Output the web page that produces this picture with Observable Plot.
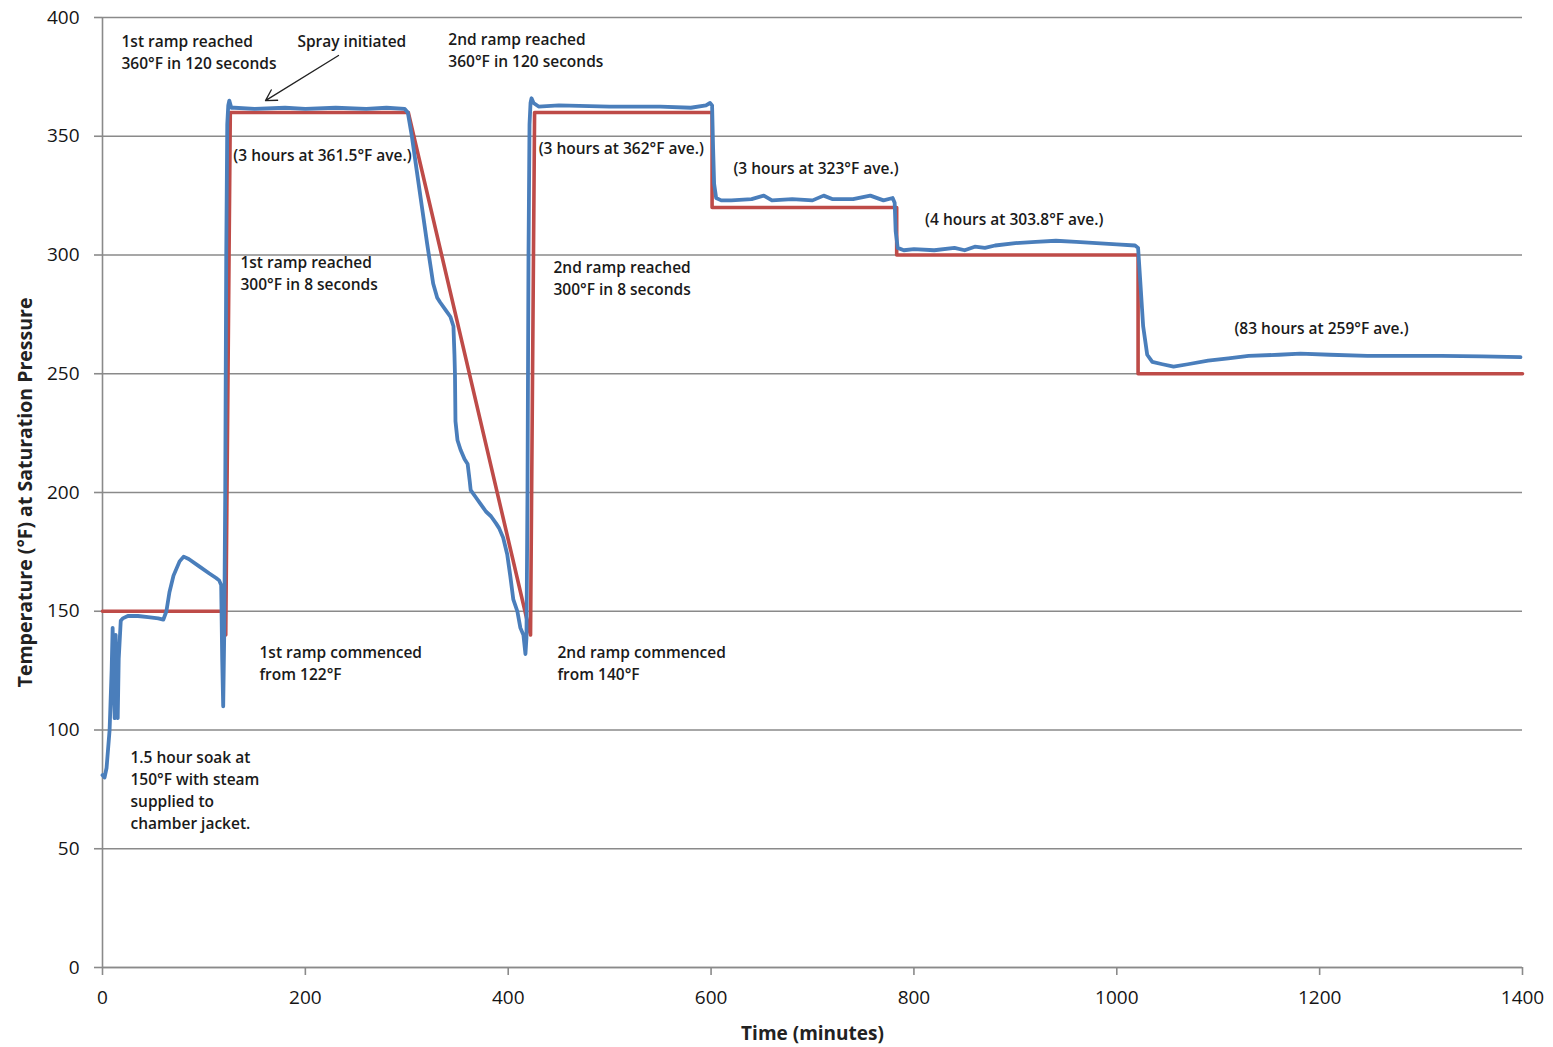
<!DOCTYPE html>
<html><head><meta charset="utf-8">
<script src="https://cdn.jsdelivr.net/npm/d3@7"></script>
<script src="https://cdn.jsdelivr.net/npm/@observablehq/plot@0.6"></script>
<style>body{margin:0;background:#fff}</style>
</head><body><div id="chart"></div>
<script>
// Measured chamber temperature (blue)
const measuredTime = [0,2,4,7,9,10,11,12,13,14,15,16,18,20,25,35,45,55,60,63,66,70,76,80,85,95,105,112,115,117,118,119,120,121,122,123,124,125,127,130,150,180,200,230,260,280,298,301,305,310,315,320,326,330,333,338,343,346,347,347.5,348,350,353,357,360,362,363,368,373,378,383,388,391,395,399,402,405,409,412,415,417,418,419,420,421,422,423,425,430,450,500,550,580,595,599,601,602,603,605,610,620,640,652,660,680,700,711,720,740,757,770,779,781,782,784,790,800,820,840,850,860,870,880,900,920,940,960,980,1000,1018,1021,1023,1026,1030,1035,1045,1056,1070,1090,1110,1130,1160,1181,1210,1247,1280,1320,1360,1398];
const measuredTemp = [81,80,84,100,125,143,120,105,140,106,105,130,146,147,148,148,147.5,147,146.5,150,158,165,171,173,172,169,166,164,163,161,130,110,140,200,300,355,363,365,362,362,361.5,362,361.5,362,361.5,362,361.5,360,350,335,320,305,288,282,280,277,274,270,258,250,230,222,218,214,212,205,201,198,195,192,190,187,185,181,174,165,155,150,143,140,132,139,200,300,355,364,366,364,362.5,363,362.5,362.5,362,363,364,363,345,330,324,323,323,323.5,325,323,323.5,323,325,323.5,323.5,325,323,324,322,310,303,302,302.5,302,303,302,303.5,303,304,305,305.5,306,305.5,305,304.5,304,303,290,270,258,255,254,253,254,255.5,256.5,257.5,258,258.5,258,257.5,257.5,257.5,257.3,257];
// Set-point profile (red)
const setpointTime = [0,121.5,121.5,126,301.5,422,426,601,601,783,783,1021,1021,1400];
const setpointTemp = [150,150,140,360,360,140,360,360,320,320,300,300,250,250];
// Annotations
const noteText = [
  "1st ramp reached\n360°F in 120 seconds",
  "Spray initiated",
  "2nd ramp reached\n360°F in 120 seconds",
  "(3 hours at 361.5°F ave.)",
  "(3 hours at 362°F ave.)",
  "(3 hours at 323°F ave.)",
  "(4 hours at 303.8°F ave.)",
  "(83 hours at 259°F ave.)",
  "1st ramp reached\n300°F in 8 seconds",
  "2nd ramp reached\n300°F in 8 seconds",
  "1st ramp commenced\nfrom 122°F",
  "2nd ramp commenced\nfrom 140°F",
  "1.5 hour soak at\n150°F with steam\nsupplied to\nchamber jacket."
];
const noteTime = [18.7,192.2,341,129,430,622,811,1116,136,444.6,154.8,448.6,27.6];
const noteTemp = [394.2,394.2,395,346.2,349.2,340.7,319.2,273.2,301.2,299.2,136.9,136.9,92.7];
// Spray arrow (from label to line)
const arrowFrom = [232.7, 384];
const arrowTo = [160.7, 365];
const xTicks = [0,200,400,600,800,1000,1200,1400];
const yTicks = [0,50,100,150,200,250,300,350,400];

const measured = measuredTime.map((t,i)=>({t, v: measuredTemp[i]}));
const setpoint = setpointTime.map((t,i)=>({t, v: setpointTemp[i]}));
const notes = noteText.map((s,i)=>({s, t: noteTime[i], v: noteTemp[i]}));

const gray = "#8a8a8a";
const chart = Plot.plot({
  width: 1553, height: 1047,
  marginLeft: 102, marginRight: 31, marginTop: 17, marginBottom: 80,
  style: {fontFamily: "'Open Sans', sans-serif", background: "#fff", color: "#222"},
  x: {domain: [0,1400]},
  y: {domain: [0,400]},
  marks: [
    Plot.gridY(yTicks, {stroke: gray, strokeOpacity: 1, strokeWidth: 1.4}),
    Plot.ruleX([0], {stroke: gray, strokeWidth: 1.6}),
    Plot.ruleY([0], {stroke: gray, strokeWidth: 1.6}),
    Plot.axisX(xTicks, {stroke: gray, strokeWidth: 1.6, tickSize: 8, tickPadding: 15, fontSize: 19, label: null, fill: "#151515", tickFormat: d => String(d)}),
    Plot.axisY(yTicks, {stroke: gray, strokeWidth: 1.6, tickSize: 8, tickPadding: 15, fontSize: 19, label: null, fill: "#151515", tickFormat: d => String(d)}),
    Plot.line(setpoint, {x: "t", y: "v", stroke: "#be4b48", strokeWidth: 3.6}),
    Plot.line(measured, {x: "t", y: "v", stroke: "#4a7ebb", strokeWidth: 3.8, curve: "linear"}),
    Plot.text(notes, {x: "t", y: "v", text: "s", textAnchor: "start", lineAnchor: "top", fontSize: 15.5, fontWeight: 600, lineHeight: 1.42, fill: "#1a1a1a"}),
    Plot.arrow([{x1: arrowFrom[0], y1: arrowFrom[1], x2: arrowTo[0], y2: arrowTo[1]}], {x1: "x1", y1: "y1", x2: "x2", y2: "y2", stroke: "#222", strokeWidth: 1.3, headLength: 14, bend: 0}),
    Plot.text(["Time (minutes)"], {text: d => d, frameAnchor: "bottom", dy: 72, fontSize: 19, fontWeight: "bold", fill: "#222"}),
    Plot.text(["Temperature (°F) at Saturation Pressure"], {text: d => d, frameAnchor: "left", textAnchor: "middle", dx: -77, rotate: -90, fontSize: 19.5, fontWeight: "bold", fill: "#222"})
  ]
});
document.getElementById("chart").appendChild(chart);
</script>
</body></html>
